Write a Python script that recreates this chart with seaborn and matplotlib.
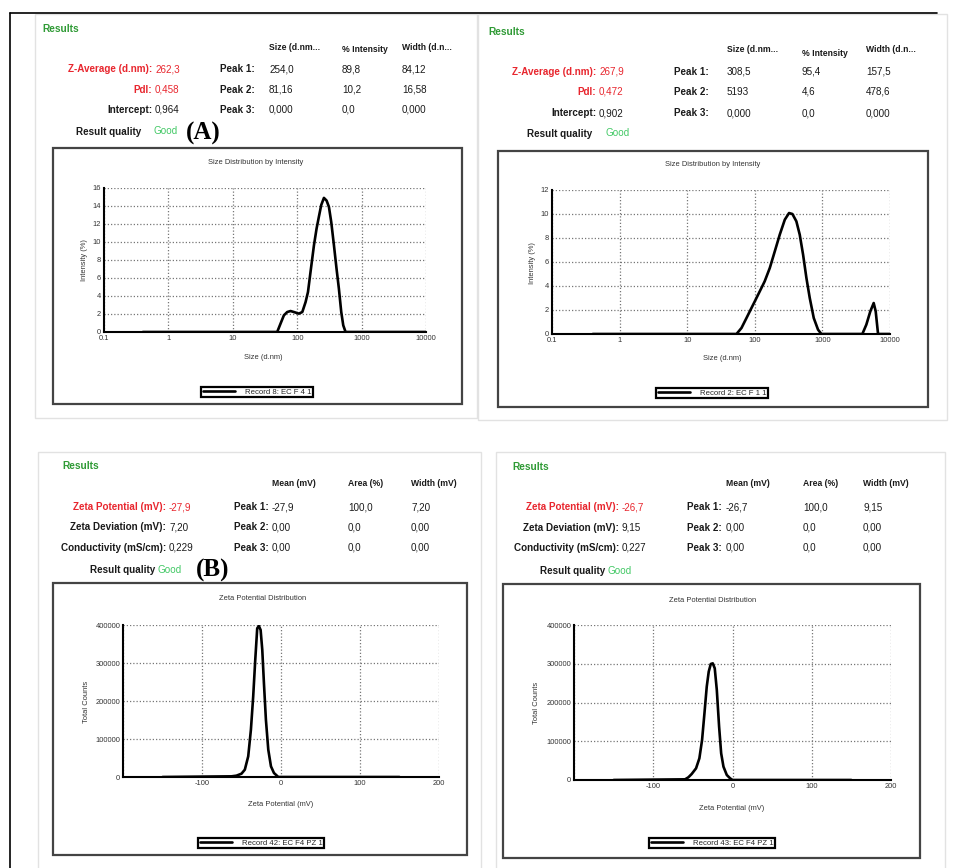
import numpy as np
import pandas as pd
import matplotlib
matplotlib.use("Agg")
import matplotlib.pyplot as plt
import seaborn as sns
from matplotlib.patches import Rectangle
from matplotlib.lines import Line2D
from matplotlib.ticker import NullLocator, MultipleLocator

# ---- data ----
# (A) size distribution by intensity, sample EC F4
size_a = [0.4, 1, 10, 48.9, 55.1, 62.1, 70.0, 78.8, 88.8, 106, 120, 135, 147, 161, 182, 200,
          217, 236, 260, 286, 311, 338, 372, 408, 444, 483, 519, 564, 1000, 10000]
intensity_a = [0, 0, 0, 0, 0.93, 1.85, 2.22, 2.33, 2.22, 2.04, 2.22, 3.33, 4.44, 6.67, 9.63, 11.5,
               12.8, 14.1, 14.9, 14.6, 13.9, 12.2, 9.63, 7.04, 4.81, 2.22, 0.74, 0, 0, 0]

# size distribution by intensity, sample EC F1
size_b = [0.4, 1, 10, 53.6, 63.5, 75.3, 89.3, 100, 118.5, 140, 166.6, 197.6, 234, 278, 321, 360,
          412, 462, 518, 580, 650, 745, 862, 966, 3900, 4466, 5118, 5737, 6143, 6656, 10000]
intensity_b = [0, 0, 0, 0, 0.5, 1.33, 2.17, 2.72, 3.56, 4.39, 5.5, 6.89, 8.28, 9.53, 10.08, 10.0,
               9.39, 8.28, 6.61, 4.67, 3.0, 1.33, 0.36, 0, 0, 0.78, 1.89, 2.58, 1.89, 0, 0]

# (B) zeta potential distribution
zeta_a = [-150, -62.7, -56.4, -50, -45.8, -41.5, -38.1, -35.2, -32.6, -30.1, -28.0, -25.8,
          -23.7, -21.6, -19.1, -16.1, -12.7, -8.9, -3.4, 150]
counts_a = [0, 1750, 3500, 8750, 19250, 54300, 124300, 211800, 308100, 391300, 397400, 386900,
            334400, 246800, 150600, 71800, 28000, 10500, 0, 0]

zeta_b = [-150, -59.9, -55.7, -51.5, -46.0, -41.8, -38.4, -35.4, -32.5, -30.0, -27.4, -24.9,
          -22.4, -19.8, -16.9, -14.3, -11.4, -7.2, -3.0, 0, 150]
counts_b = [0, 1720, 6900, 15500, 30100, 55900, 103200, 172000, 240900, 279600, 299400, 301100,
            288200, 232300, 137600, 68800, 34400, 12900, 4300, 0, 0]

size_ticks = [0.1, 1, 10, 100, 1000, 10000]
size_tick_labels = ["0.1", "1", "10", "100", "1000", "10000"]
zeta_ticks = [-100, 0, 100, 200]
count_ticks = [0, 100000, 200000, 300000, 400000]

legend_labels = ["Record 8: EC F 4 1", "Record 2: EC F 1 1",
                 "Record 42: EC F4 PZ 1", "Record 43: EC F4 PZ 1"]

sns.set_style("white")
plt.rcParams["font.family"] = ["Liberation Sans", "DejaVu Sans"]

W, H = 961, 868
fig = plt.figure(figsize=(W / 100, H / 100), dpi=100)

RED = "#e8262e"
GREEN = "#2f9a35"
GOOD = "#41c864"
INK = "#1a1a1a"
ROW = 7.1     # font size of the result rows
HEAD = 6.2    # font size of the column heads
SMALL = 5.4   # chart texts


def fx(x):
    return x / W


def fy(y):
    return 1 - y / H


def txt(x, y, s, ha="left", size=6, weight="normal", color=INK, **kw):
    fig.text(fx(x), fy(y), s, ha=ha, va="center", fontsize=size, fontweight=weight,
             color=color, **kw)


def box(x0, y0, x1, y1, color, lw):
    fig.add_artist(Rectangle((fx(x0), fy(y1)), (x1 - x0) / W, (y1 - y0) / H,
                             transform=fig.transFigure, fill=False, ec=color, lw=lw))


# outer frame (top + left) and light panel borders
fig.add_artist(Line2D([fx(10), fx(937)], [fy(13), fy(13)], transform=fig.transFigure,
                      color="black", lw=1.2))
fig.add_artist(Line2D([fx(10), fx(10)], [fy(13), fy(868)], transform=fig.transFigure,
                      color="black", lw=1.2))
box(35, 14, 477, 418, "#e2e2e2", 1.0)
box(478, 14, 947, 420, "#e2e2e2", 1.0)
box(38, 452, 481, 875, "#e2e2e2", 1.0)
box(496, 452, 945, 875, "#e2e2e2", 1.0)

# chart frames
box(53, 148, 462, 404, "#444444", 1.6)
box(498, 151, 928, 407, "#444444", 1.6)
box(53, 583, 467, 855, "#444444", 1.6)
box(503, 584, 920, 858, "#444444", 1.6)


# ---- results tables ----
def results(x_res, y_res, heads, hx, hy, rows, lab_x, val_x, peak_x, rows_y, cells,
            q_x, q_y, label_colors):
    txt(x_res, y_res, "Results", size=7.3, weight="bold", color=GREEN)
    for h, x, yy in zip(heads, hx, hy):
        txt(x, yy, h, size=HEAD, weight="bold")
    for i, (lab, val) in enumerate(rows):
        c = label_colors[i]
        txt(lab_x, rows_y[i], lab, ha="right", size=ROW, weight="bold", color=c)
        txt(val_x, rows_y[i], val, size=ROW, color=c)
        txt(peak_x, rows_y[i], f"Peak {i + 1}:", size=ROW, weight="bold")
        for x, v in zip(hx, cells[i]):
            txt(x, rows_y[i], v, size=ROW)
    txt(q_x, q_y, "Result quality", ha="right", size=ROW, weight="bold")


results(42, 29, ["Size (d.nm...", "% Intensity", "Width (d.n..."], [269, 342, 402], [48, 50, 48],
        [("Z-Average (d.nm):", "262,3"), ("PdI:", "0,458"), ("Intercept:", "0,964")],
        152, 155, 220, [69, 90, 110],
        [["254,0", "89,8", "84,12"], ["81,16", "10,2", "16,58"], ["0,000", "0,0", "0,000"]],
        141, 132, [RED, RED, INK])
txt(154, 131, "Good", size=ROW, color=GOOD)
txt(186, 133, "(A)", size=18, weight="bold", color="black", family="Liberation Serif")

results(488, 32, ["Size (d.nm...", "% Intensity", "Width (d.n..."], [727, 802, 866], [49, 53, 49],
        [("Z-Average (d.nm):", "267,9"), ("PdI:", "0,472"), ("Intercept:", "0,902")],
        596, 599, 674, [72, 92, 113],
        [["308,5", "95,4", "157,5"], ["5193", "4,6", "478,6"], ["0,000", "0,0", "0,000"]],
        592, 134, [RED, RED, INK])
txt(605, 133, "Good", size=ROW, color=GOOD)

results(62, 466, ["Mean (mV)", "Area (%)", "Width (mV)"], [272, 348, 411], [484, 484, 484],
        [("Zeta Potential (mV):", "-27,9"), ("Zeta Deviation (mV):", "7,20"),
         ("Conductivity (mS/cm):", "0,229")],
        166, 169, 234, [507, 527, 548],
        [["-27,9", "100,0", "7,20"], ["0,00", "0,0", "0,00"], ["0,00", "0,0", "0,00"]],
        155, 570, [RED, INK, INK])
txt(157, 570, "Good", size=ROW, color=GOOD)
txt(196, 570, "(B)", size=18, weight="bold", color="black", family="Liberation Serif")

results(512, 467, ["Mean (mV)", "Area (%)", "Width (mV)"], [726, 803, 863], [484, 484, 484],
        [("Zeta Potential (mV):", "-26,7"), ("Zeta Deviation (mV):", "9,15"),
         ("Conductivity (mS/cm):", "0,227")],
        619, 622, 687, [507, 528, 548],
        [["-26,7", "100,0", "9,15"], ["0,00", "0,0", "0,00"], ["0,00", "0,0", "0,00"]],
        605, 571, [RED, INK, INK])
txt(607, 571, "Good", size=ROW, color=GOOD)


# ---- distribution charts ----
def chart(x0, y0, x1, y1, xs, ys, label, legend_xy):
    ax = fig.add_axes([fx(x0), fy(y1), (x1 - x0) / W, (y1 - y0) / H])
    df = pd.DataFrame({"x": xs, "y": ys})
    sns.lineplot(data=df, x="x", y="y", ax=ax, color="black", lw=1.9, label=label,
                 estimator=None, sort=False)
    for s in ["top", "right"]:
        ax.spines[s].set_visible(False)
    for s in ["left", "bottom"]:
        ax.spines[s].set_color("black")
        ax.spines[s].set_linewidth(1.5)
    ax.grid(True, ls=(0, (1, 1.6)), color="#777777", lw=0.9)
    ax.set_axisbelow(True)
    ax.set_xlabel("")
    ax.set_ylabel("")
    ax.tick_params(axis="both", which="major", labelsize=SMALL, labelcolor="#333333",
                   direction="in", length=2.5, width=0.9, pad=2)
    ax.tick_params(axis="y", which="minor", direction="in", length=2, width=0.9)
    leg = ax.legend(loc="center", bbox_to_anchor=(fx(legend_xy[0]), fy(legend_xy[1])),
                    bbox_transform=fig.transFigure, fancybox=False, edgecolor="black",
                    fontsize=5.6, handlelength=4.2, borderpad=0.2, handletextpad=1.2,
                    framealpha=1)
    leg.get_frame().set_linewidth(1.6)
    return ax


def size_axes(ax, ymax):
    ax.set_xscale("log")
    ax.set_xlim(0.1, 10000)
    ax.set_ylim(0, ymax)
    ax.set_xticks(size_ticks)
    ax.set_xticklabels(size_tick_labels)
    ax.xaxis.set_minor_locator(NullLocator())
    ax.yaxis.set_major_locator(MultipleLocator(2))
    ax.yaxis.set_minor_locator(MultipleLocator(1))


def zeta_axes(ax):
    ax.set_xlim(-200, 200)
    ax.set_ylim(0, 400000)
    ax.set_xticks([-200] + zeta_ticks)
    ax.set_xticklabels([""] + [str(t) for t in zeta_ticks])
    ax.set_yticks(count_ticks)
    ax.set_yticklabels([str(t) for t in count_ticks])
    ax.yaxis.set_minor_locator(MultipleLocator(50000))


ax1 = chart(104, 188, 426, 332, size_a, intensity_a, legend_labels[0], (257, 392))
size_axes(ax1, 16)
ax2 = chart(552, 190, 890, 334, size_b, intensity_b, legend_labels[1], (712, 393))
size_axes(ax2, 12)
ax3 = chart(123, 625, 439, 777, zeta_a, counts_a, legend_labels[2], (261, 843))
zeta_axes(ax3)
ax4 = chart(574, 625, 891, 780, zeta_b, counts_b, legend_labels[3], (712, 843))
zeta_axes(ax4)

# titles and axis labels
for x, y, s in [(256, 162, "Size Distribution by Intensity"), (713, 165, "Size Distribution by Intensity"),
                (263, 598, "Zeta Potential Distribution"), (713, 600, "Zeta Potential Distribution")]:
    txt(x, y, s, ha="center", size=SMALL, color="#333333")
for x, y, s in [(263, 357, "Size (d.nm)"), (722, 358, "Size (d.nm)"),
                (281, 804, "Zeta Potential (mV)"), (732, 808, "Zeta Potential (mV)")]:
    txt(x, y, s, ha="center", size=SMALL, color="#333333")
for x, y, s in [(85, 260, "Intensity (%)"), (533, 263, "Intensity (%)"),
                (87, 702, "Total Counts"), (537, 703, "Total Counts")]:
    txt(x, y, s, ha="center", size=SMALL, color="#333333", rotation=90)

fig.savefig("out.png", dpi=100, facecolor="white")
